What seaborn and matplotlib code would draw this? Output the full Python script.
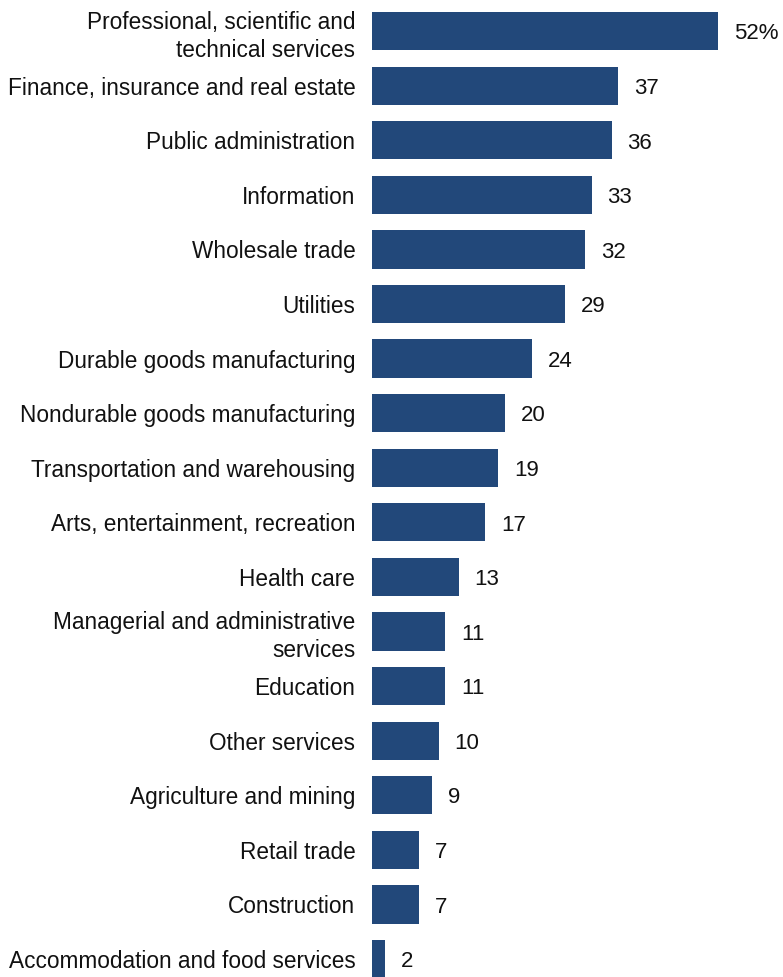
import matplotlib
matplotlib.use("Agg")
import matplotlib.pyplot as plt
import seaborn as sns
import pandas as pd

industries = [
    "Professional, scientific and\ntechnical services",
    "Finance, insurance and real estate",
    "Public administration",
    "Information",
    "Wholesale trade",
    "Utilities",
    "Durable goods manufacturing",
    "Nondurable goods manufacturing",
    "Transportation and warehousing",
    "Arts, entertainment, recreation",
    "Health care",
    "Managerial and administrative\nservices",
    "Education",
    "Other services",
    "Agriculture and mining",
    "Retail trade",
    "Construction",
    "Accommodation and food services",
]
shares = [52, 37, 36, 33, 32, 29, 24, 20, 19, 17, 13, 11, 11, 10, 9, 7, 7, 2]

df = pd.DataFrame({"industry": industries, "share": shares})

sns.set_theme(style="white")
bar_color = "#22487A"

fig = plt.figure(figsize=(7.83, 9.77), dpi=100)
ax = fig.add_axes([372 / 783, 0, 1 - 372 / 783, 1])

sns.barplot(data=df, x="share", y="industry", color=bar_color, width=0.70,
            saturation=1, orient="h", ax=ax, edgecolor="none")

ax.set_xlim(0, 52 * (783 - 372) / 346)
ax.set_ylim(17.33, -0.57)
ax.set_xlabel("")
ax.set_ylabel("")
ax.set_xticks([])
for s in ax.spines.values():
    s.set_visible(False)

ax.tick_params(axis="y", length=0, pad=12)
for lbl in ax.get_yticklabels():
    lbl.set_fontfamily(["Liberation Sans", "DejaVu Sans"])
    lbl.set_fontsize(16.3)
    lbl.set_color("#111111")
    lbl.set_horizontalalignment("right")
    lbl.set_multialignment("right")
    lbl.set_linespacing(1.3)

# value labels to the right of each bar
for i, v in enumerate(shares):
    txt = f"{v}%" if i == 0 else f"{v}"
    ax.text(v + 2.4, i + 0.05, txt, va="center", ha="left", fontsize=16,
            fontfamily="Liberation Sans", color="#111111")

fig.savefig("out.png", dpi=100)
